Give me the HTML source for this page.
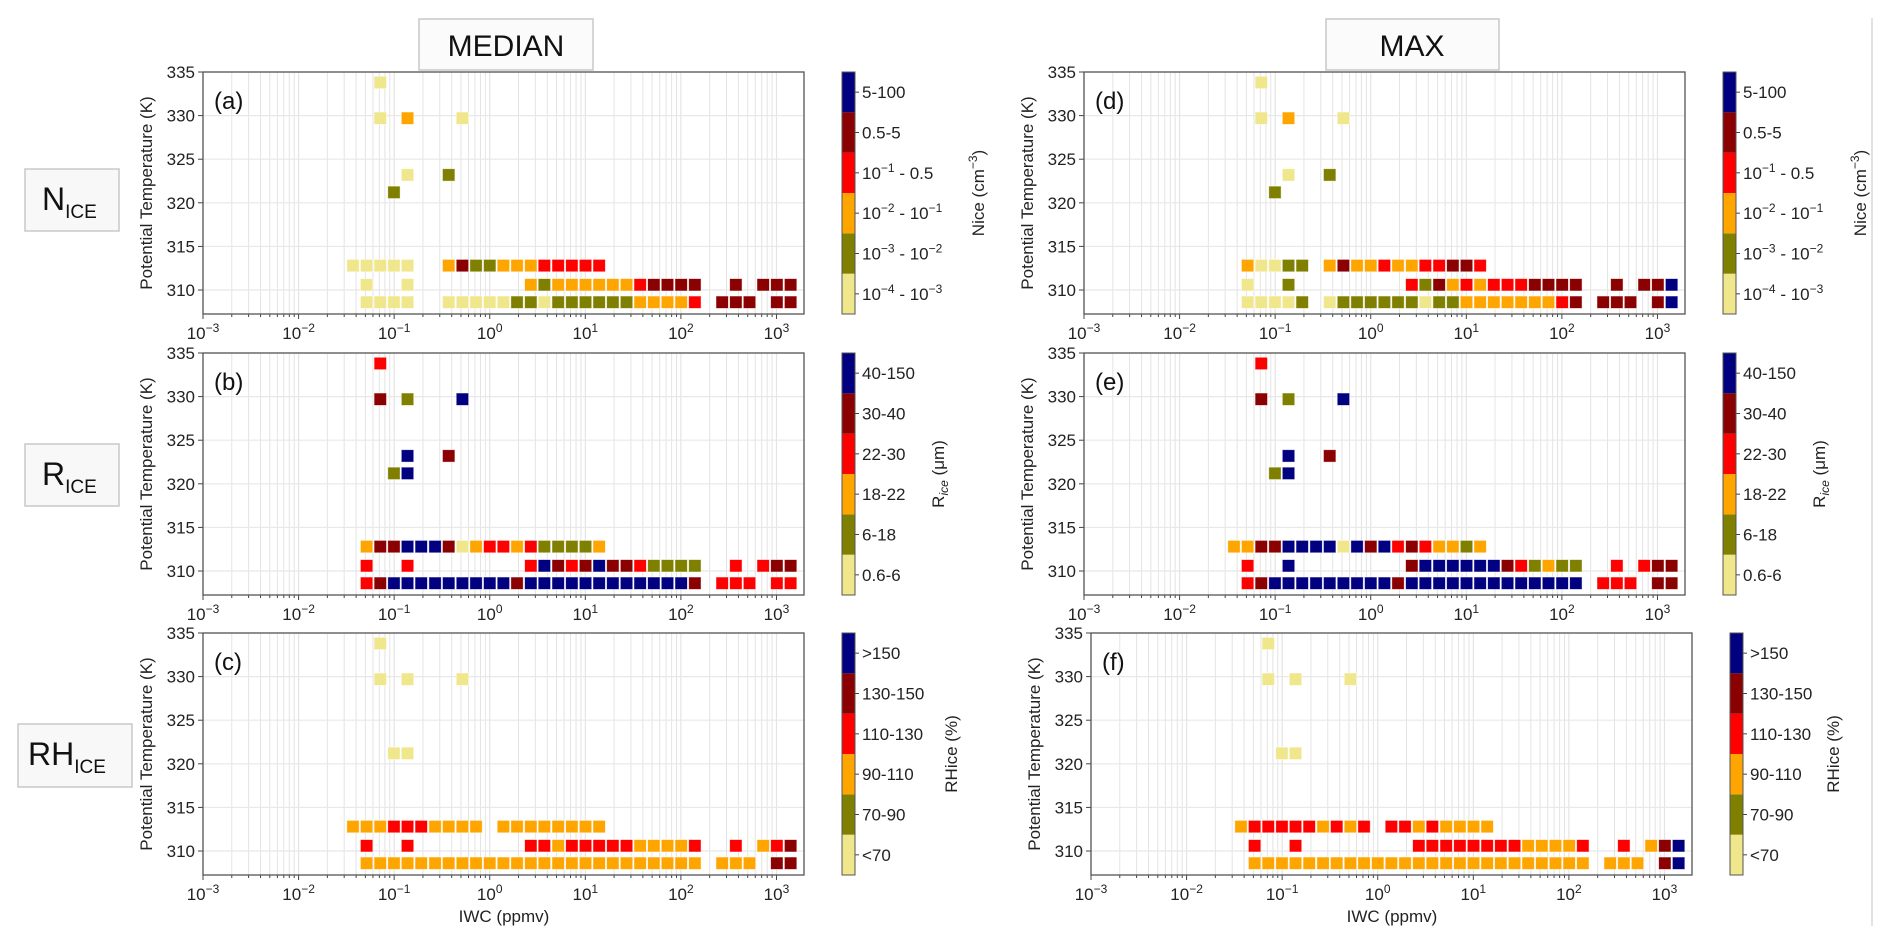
<!DOCTYPE html>
<html><head><meta charset="utf-8">
<style>
html,body{margin:0;padding:0;background:#fff;}
svg{display:block;font-family:"Liberation Sans","DejaVu Sans",sans-serif;}
</style></head>
<body>
<svg id="fig" width="1892" height="944" viewBox="0 0 1892 944" xmlns="http://www.w3.org/2000/svg">
<line x1="1872" y1="18" x2="1872" y2="926" stroke="#d8d8d8" stroke-width="1.5"/>
<g>
<rect x="419" y="19" width="174" height="51" fill="#fbfbfb" stroke="#c8c8c8" stroke-width="1.5"/>
<text x="506" y="56" font-size="30" text-anchor="middle" fill="#111">MEDIAN</text></g>
<g>
<rect x="1326" y="19" width="173" height="51" fill="#fbfbfb" stroke="#c8c8c8" stroke-width="1.5"/>
<text x="1412" y="56" font-size="30" text-anchor="middle" fill="#111">MAX</text></g>
<g>
<rect x="25" y="169" width="94" height="62" fill="#f8f8f8" stroke="#c8c8c8" stroke-width="1.5"/>
<text x="42" y="210" font-size="32" fill="#111">N<tspan font-size="19" dy="8">ICE</tspan></text></g>
<g>
<rect x="25" y="444" width="94" height="62" fill="#f8f8f8" stroke="#c8c8c8" stroke-width="1.5"/>
<text x="42" y="485" font-size="32" fill="#111">R<tspan font-size="19" dy="8">ICE</tspan></text></g>
<g>
<rect x="18" y="724" width="114" height="63" fill="#f8f8f8" stroke="#c8c8c8" stroke-width="1.5"/>
<text x="28" y="765" font-size="32" fill="#111">RH<tspan font-size="19" dy="8">ICE</tspan></text></g>
</svg>
<script>
// ---- data ----
const iwcBins = [0.0371,0.0515,0.0716,0.0995,0.138,0.192,0.268,0.372,0.518,0.719,1.0,1.39,1.93,2.69,3.73,5.20,7.23,10.05,13.96,19.41,27.0,37.5,52.1,72.4,100.7,140.0,194.5,270.4,375.8,522.4,726.1,1009,1406];
const thetaLevels = [308.6,310.6,312.8,321.2,323.2,329.7,333.8];
const classColors = ["#f0e68c","#808000","#ffa500","#ff0000","#8b0000","#000080"];
// each string: one character per IWC bin (class index, '.' = empty); order matches thetaLevels
const panelA = [".0000..0000011011111122223.444.44", ".0..0........2122222234444..4.444", "00000..241122233333", "...1", "....0..1", "..0.2...0", "..0"];
const panelB = [".3455555555545555555555554.333.33", ".3..3........3543454431111..3.344", ".244555402332311112", "...15", "....5..4", "..4.1...5", "..3"];
const panelC = [".2222222222222222222222222.222.44", ".3..3........3323333322223..3.234", "2223332222.22222222", "...00", "", "..0.0...0", "..0"];
const panelD = [".00001.0111111011222222234.444.45", ".0..1........3142323334444..4.445", ".20011.242232233443", "...1", "....0..1", "..0.2...0", "..0"];
const panelE = [".3455555555545555555555555.333.44", ".3..5........4555555431211..3.344", "2244555505453432212", "...15", "....5..4", "..4.1...5", "..3"];
const panelF = [".2222222222222222222222222.222.45", ".3..3........3333333322223..3.245", "2333332323.33232222", "...00", "", "..0.0...0", "..0"];
const yTicks = [310,315,320,325,330,335];
const xTickExps = [-3,-2,-1,0,1,2,3];
const niceLabels = [["10","\u22124"," - ","10","\u22123"],["10","\u22123"," - ","10","\u22122"],["10","\u22122"," - ","10","\u22121"],["10","\u22121"," - 0.5"],["0.5-5"],["5-100"]];
const riceLabels = [["0.6-6"],["6-18"],["18-22"],["22-30"],["30-40"],["40-150"]];
const rhLabels = [["<70"],["70-90"],["90-110"],["110-130"],["130-150"],[">150"]];

function norm(s){s=s.replace(/ /g,'');while(s.length<33)s+='.';return s.slice(0,33);}

const NS="http://www.w3.org/2000/svg";
const svg=document.getElementById('fig');
function el(tag,attrs,parent){const e=document.createElementNS(NS,tag);for(const k in attrs)e.setAttribute(k,attrs[k]);(parent||svg).appendChild(e);return e;}

const PW=601, PH=242, LOGMIN=-3, LOGMAX=3.288, TMIN=307.25, TMAX=335;
const panels=[
 {id:'a',rows:panelA,x:203,y:72,cbx:842,labs:niceLabels,title:'nice',lx:978},
 {id:'b',rows:panelB,x:203,y:353,cbx:842,labs:riceLabels,title:'rice',lx:938},
 {id:'c',rows:panelC,x:203,y:633,cbx:842,labs:rhLabels,title:'rh',lx:951,xl:true},
 {id:'d',rows:panelD,x:1084,y:72,cbx:1723,labs:niceLabels,title:'nice',lx:1860},
 {id:'e',rows:panelE,x:1084,y:353,cbx:1723,labs:riceLabels,title:'rice',lx:1819},
 {id:'f',rows:panelF,x:1091,y:633,cbx:1730,labs:rhLabels,title:'rh',lx:1833,xl:true}
];

panels.forEach(p=>{
  const xs=v=>p.x+(Math.log10(v)-LOGMIN)/(LOGMAX-LOGMIN)*PW;
  const ys=t=>p.y+(TMAX-t)/(TMAX-TMIN)*PH;
  const g=el('g',{});
  
  
  const grid=el('g',{},g);
  
  
  for(let e=-3;e<=3;e++){for(let m=1;m<=9;m++){const v=m*Math.pow(10,e);const X=xs(v);if(X>p.x+PW)continue;
    const ln=el('line',{x1:X,x2:X,y1:p.y,y2:p.y+PH,stroke:'#e4e4e4','stroke-width':m==1?1.2:1},grid);
    
    
    const tk=el('line',{x1:X,x2:X,y1:p.y+PH,y2:p.y+PH+(m==1?5:3),stroke:'#444','stroke-width':1},g);
    
    }}
  yTicks.forEach(t=>{const Y=ys(t);
    const ln=el('line',{x1:p.x,x2:p.x+PW,y1:Y,y2:Y,stroke:'#e8e8e8','stroke-width':1.2},grid);
    
    
    const tk=el('line',{x1:p.x-5,x2:p.x,y1:Y,y2:Y,stroke:'#444','stroke-width':1},g);
    
    
    const tx=el('text',{x:p.x-8,y:Y+6,'font-size':17,'text-anchor':'end',fill:'#222'},g);
    tx.textContent=t;
    
    });
  xTickExps.forEach(e=>{const X=xs(Math.pow(10,e));
    const tx=el('text',{x:X,y:p.y+PH+25,'font-size':17,'text-anchor':'middle',fill:'#222'},g);
    
    
    const a=el('tspan',{},tx);a.textContent='10';
    const b=el('tspan',{'font-size':12,dy:-7},tx);b.textContent=(e<0?'\u2212':'')+Math.abs(e);});
  const cells=el('g',{},g);
  
  
  const bw=12.4;
  p.rows.forEach((rs,ri)=>{const r=norm(rs);for(let k=0;k<33;k++){const c=r[k];if(c<'0'||c>'5')continue;
    const X=xs(iwcBins[k]),Y=ys(thetaLevels[ri]);
    const rc=el('rect',{x:X-bw/2,y:Y-bw/2,width:bw,height:bw,fill:classColors[+c],stroke:'#fff','stroke-opacity':0.6,'stroke-width':0.8},cells);
    
    }});
  const fr=el('rect',{x:p.x,y:p.y,width:PW,height:PH,fill:'none',stroke:'#555','stroke-width':1.3},g);
  
  
  const pl=el('text',{x:p.x+11,y:p.y+37,'font-size':24,fill:'#111'},g);
  pl.textContent='('+p.id+')';
  
  
  const yt=el('text',{x:0,y:0,'font-size':17,'text-anchor':'middle',fill:'#222',transform:'translate('+(p.x-51)+','+(p.y+PH/2)+') rotate(-90)'},g);
  yt.textContent='Potential Temperature (K)';
  
  
  if(p.xl){const xt=el('text',{x:p.x+301,y:p.y+PH+47,'font-size':17,'text-anchor':'middle',fill:'#222'},g);
    xt.textContent='IWC (ppmv)';
    
    }
  const cb=el('g',{},g);
  
  
  const segH=PH/6;
  for(let i=0;i<6;i++){const Y=p.y+PH-(i+1)*segH;
    const s=el('rect',{x:p.cbx,y:Y,width:13,height:segH,fill:classColors[i]},cb);
    
    
    const cy=Y+segH/2;
    el('line',{x1:p.cbx+13,x2:p.cbx+17,y1:cy,y2:cy,stroke:'#444','stroke-width':1},cb);
    const tx=el('text',{x:p.cbx+20,y:cy+6,'font-size':17,fill:'#222'},cb);
    
    
    const parts=p.labs[i];
    if(parts.length==1){tx.textContent=parts[0];}
    else{let sup=false;parts.forEach((s,j)=>{const t=el('tspan',{},tx);
      if(j==1||j==4){t.setAttribute('font-size',12);t.setAttribute('dy',-7);sup=true;}
      else if(sup){t.setAttribute('dy',7);sup=false;}
      t.textContent=s;});}}
  el('rect',{x:p.cbx,y:p.y,width:13,height:PH,fill:'none',stroke:'#555','stroke-width':1},cb);
  const lt=el('text',{x:0,y:0,'font-size':17,'text-anchor':'middle',fill:'#222',transform:'translate('+(p.lx+6)+','+(p.y+PH/2)+') rotate(-90)'},cb);
  
  
  if(p.title=='nice'){const a=el('tspan',{},lt);a.textContent='Nice (cm';const b=el('tspan',{'font-size':12,dy:-7},lt);b.textContent='\u22123';const c=el('tspan',{dy:7},lt);c.textContent=')';}
  else if(p.title=='rice'){const a=el('tspan',{},lt);a.textContent='R';const b=el('tspan',{'font-size':12,dy:4,'font-style':'italic'},lt);b.textContent='ice';const c=el('tspan',{dy:-4},lt);c.textContent=' (\u03bcm)';}
  else{lt.textContent='RHice (%)';}
});
</script>
</body></html>
